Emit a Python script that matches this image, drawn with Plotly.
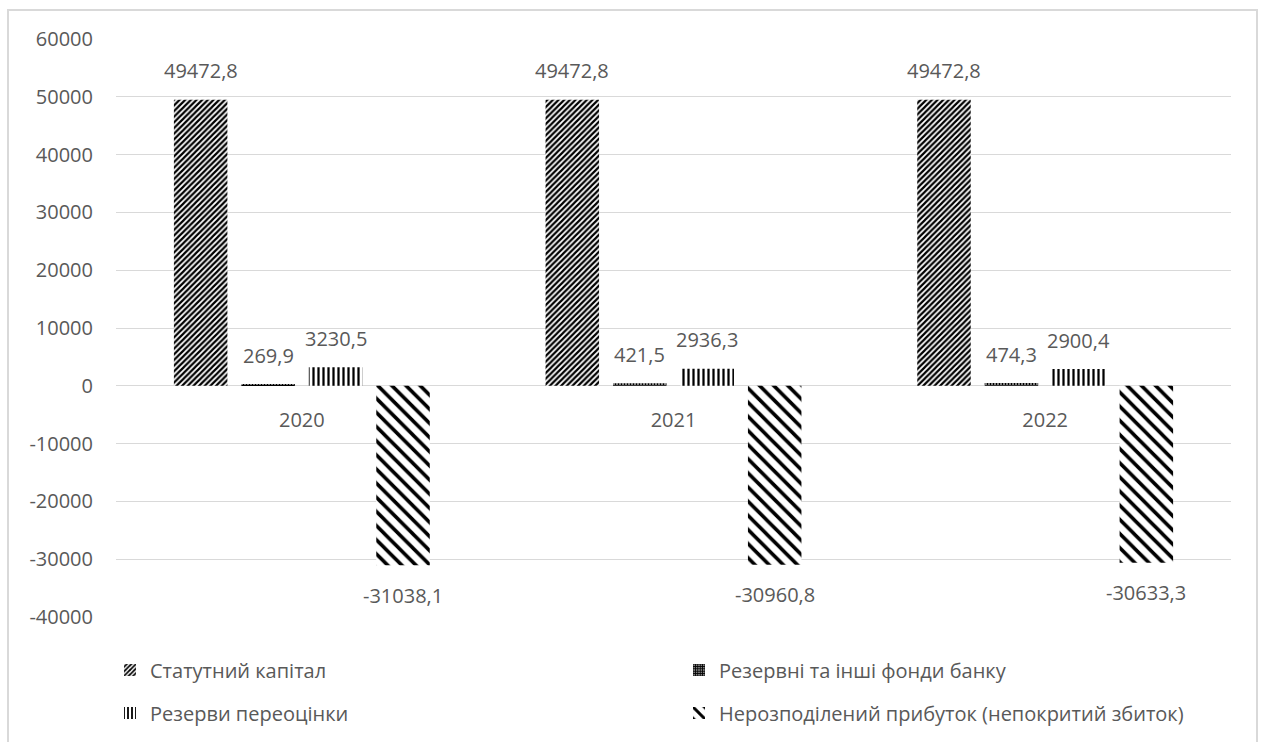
import plotly.graph_objects as go

# Bank equity components, thousand UAH
years = ["2020", "2021", "2022"]
statutory_capital = [49472.8, 49472.8, 49472.8]
reserve_funds = [269.9, 421.5, 474.3]
revaluation_reserves = [3230.5, 2936.3, 2900.4]
retained_earnings = [-31038.1, -30960.8, -30633.3]

series_names = [
    "Статутний капітал",
    "Резервні та інші фонди банку",
    "Резерви переоцінки",
    "Нерозподілений прибуток (непокритий збиток)",
]
y_ticks = [60000, 50000, 40000, 30000, 20000, 10000, 0, -10000, -20000, -30000, -40000]

FONT = "Open Sans"
TEXT = "#595959"
GRID = "#d9d9d9"
W, H = 1263, 742
ML, MR, MT, MB = 116, 32, 39, 125
BARGAP, GROUPGAP = 0.274, 0.207
plot_h = H - MT - MB
plot_w = W - ML - MR

patterns = [
    dict(shape="/", size=4, solidity=0.55),
    dict(shape="+", size=3, solidity=0.8),
    dict(shape="|", size=5, solidity=0.45),
    dict(shape="\\", size=10, solidity=0.36),
]
all_series = [statutory_capital, reserve_funds, revaluation_reserves, retained_earnings]

# one single-item legend per series, laid out as a 2x2 grid under the plot
legend_ids = ["legend", "legend2", "legend3", "legend4"]
legend_cols = [0, 1, 0, 1]
legend_rows = [0, 0, 1, 1]
col_px = [-6, 563]
row_px = [670, 713]

xpos = list(range(len(years)))
fig = go.Figure()
for k, (name, vals, pat) in enumerate(zip(series_names, all_series, patterns)):
    fig.add_trace(go.Bar(
        x=xpos, y=vals, name=name,
        marker=dict(color="white", line=dict(width=0),
                    pattern=dict(fgcolor="black", bgcolor="white", fgopacity=1,
                                 fillmode="replace", **pat)),
        legend=legend_ids[k],
    ))

# value labels placed above / below each bar
slot = (1 - BARGAP) / 4
for k, vals in enumerate(all_series):
    for i, v in enumerate(vals):
        fig.add_annotation(
            x=i + (k - 1.5) * slot, y=v, xref="x", yref="y",
            text=f"{v:.1f}".replace(".", ","),
            showarrow=False, yshift=29 if v >= 0 else -30,
            font=dict(family=FONT, size=20, color=TEXT),
        )

# outer chart border
fig.add_shape(type="rect", xref="paper", yref="paper",
              x0=(8 - ML) / plot_w, x1=(1257 - ML) / plot_w,
              y0=-(MB + 5) / plot_h, y1=(H - MB - 10) / plot_h,
              line=dict(color=GRID, width=2), fillcolor="rgba(0,0,0,0)", layer="below")

legend_layouts = {}
for k, lid in enumerate(legend_ids):
    legend_layouts[lid] = dict(
        orientation="h", xref="paper", yref="paper",
        x=col_px[legend_cols[k]] / plot_w, xanchor="left",
        y=-(row_px[legend_rows[k]] - (H - MB)) / plot_h, yanchor="middle",
        bgcolor="rgba(0,0,0,0)", borderwidth=0,
        font=dict(family=FONT, size=20, color=TEXT),
    )

ymin, ymax = -40000, 60000
fig.update_layout(
    width=W, height=H,
    margin=dict(l=ML, r=MR, t=MT, b=MB, pad=0, autoexpand=False),
    paper_bgcolor="white", plot_bgcolor="white",
    barmode="group", bargap=BARGAP, bargroupgap=GROUPGAP,
    font=dict(family=FONT, size=20, color=TEXT),
    xaxis=dict(
        tickvals=xpos, ticktext=years, range=[-0.5, len(years) - 0.5],
        showgrid=False, zeroline=False, showline=False,
        anchor="free", position=(0 - ymin) / (ymax - ymin),
        ticks="", ticklabelstandoff=20,
        tickfont=dict(family=FONT, size=20, color=TEXT),
    ),
    yaxis=dict(
        range=[ymin, ymax], tickvals=y_ticks, ticktext=[str(t) for t in y_ticks],
        showgrid=True, gridcolor=GRID, gridwidth=1,
        zeroline=True, zerolinecolor=GRID, zerolinewidth=1,
        showline=False, ticks="", ticklabelstandoff=22,
        tickfont=dict(family=FONT, size=20, color=TEXT),
    ),
    showlegend=True,
    **legend_layouts,
)

fig.write_html("out.html")
